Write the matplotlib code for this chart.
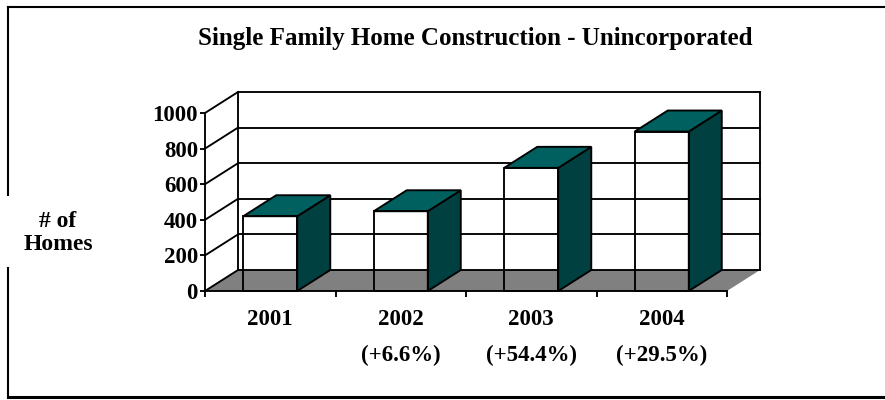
import matplotlib
matplotlib.use('Agg')
import matplotlib.pyplot as plt
from matplotlib.patches import Polygon, Rectangle
from matplotlib.lines import Line2D

# data
years = ['2001', '2002', '2003', '2004']
homes = [420, 448, 692, 896]
changes = ['', '(+6.6%)', '(+54.4%)', '(+29.5%)']
yticks = [0, 200, 400, 600, 800, 1000]
title = 'Single Family Home Construction - Unincorporated'

plt.rcParams['font.family'] = ['Liberation Serif', 'DejaVu Serif']
plt.rcParams['font.weight'] = 'bold'

W, H = 885, 400
fig = plt.figure(figsize=(W / 100, H / 100), dpi=100)
# axes = front plane of the 3d box
ax = fig.add_axes([205 / W, 109 / H, 522 / W, 178 / H])
n = len(years)
ax.set_xlim(0, n)
ax.set_ylim(0, 1000)

#3d look: depth offset in data units
dx, dy = 0.253, 118
bw = 0.414
top_c = '#006060'
side_c = '#004040'
lw = 1.35

#floor
ax.add_patch(Polygon([(0, 0), (n, 0), (n + dx, dy), (dx, dy)], closed=True,
                     fc='#808080', ec='none', zorder=1, clip_on=False))

#gridlines on back wall + left wall
for v in yticks:
    ax.plot([dx, n + dx], [v + dy, v + dy], color='k', lw=lw, zorder=2, clip_on=False)
    ax.plot([0, dx], [v, v + dy], color='k', lw=lw, zorder=2, clip_on=False)
ax.plot([dx, dx], [dy, yticks[-1] + dy], color='k', lw=lw, zorder=2, clip_on=False)
ax.plot([n + dx, n + dx], [dy, yticks[-1] + dy], color='k', lw=lw, zorder=2, clip_on=False)

#bars
for i, v in enumerate(homes):
    x0 = i + 0.5 - bw / 2
    x1 = x0 + bw
    ax.add_patch(Polygon([(x1, 0), (x1 + dx, dy), (x1 + dx, v + dy), (x1, v)], closed=True,
                         fc=side_c, ec='k', lw=lw, zorder=3, clip_on=False, joinstyle='miter'))
    ax.add_patch(Polygon([(x0, v), (x1, v), (x1 + dx, v + dy), (x0 + dx, v + dy)], closed=True,
                         fc=top_c, ec='k', lw=lw, zorder=3, clip_on=False, joinstyle='miter'))
    ax.add_patch(Rectangle((x0, 0), bw, v, fill=False, ec='k', lw=lw, zorder=4, clip_on=False))

for s in ['top', 'right']:
    ax.spines[s].set_visible(False)
for s in ['left', 'bottom']:
    ax.spines[s].set_linewidth(lw)
ax.patch.set_visible(False)

ax.set_yticks(yticks)
ax.set_yticklabels([str(t) for t in yticks], fontsize=16.5, fontweight='bold')
ax.tick_params(axis='y', direction='out', length=3.6, width=lw, pad=1.5)
ax.set_xticks(range(n + 1))
ax.set_xticklabels([])
ax.tick_params(axis='x', direction='out', length=4.3, width=lw)

#category labels
for i, (yr, ch) in enumerate(zip(years, changes)):
    ax.text(i + 0.5, -0.16, yr, transform=ax.get_xaxis_transform(), ha='center', va='center',
            fontsize=16.5, fontweight='bold')
    if ch:
        ax.text(i + 0.5, -0.36, ch, transform=ax.get_xaxis_transform(), ha='center', va='center',
                fontsize=16.5, fontweight='bold')

fig.text(475 / W, 1 - 39 / H, title, ha='center', va='center', fontsize=18, fontweight='bold')
fig.text(58 / W, 1 - 233 / H, '# of\nHomes', ha='center', va='center', fontsize=17,
         fontweight='bold', linespacing=1.15)

#frame around the chart
def fl(xs, ys, w):
    fig.add_artist(Line2D([x / W for x in xs], [1 - y / H for y in ys],
                          transform=fig.transFigure, color='k', lw=w))

fl([8, W], [7, 7], 1.5)
fl([8, 8], [7, 195], 1.5)
fl([8, 8], [268, 397], 1.5)
fl([8, W], [397, 397], 2.2)

fig.savefig('out.png', dpi=100)
